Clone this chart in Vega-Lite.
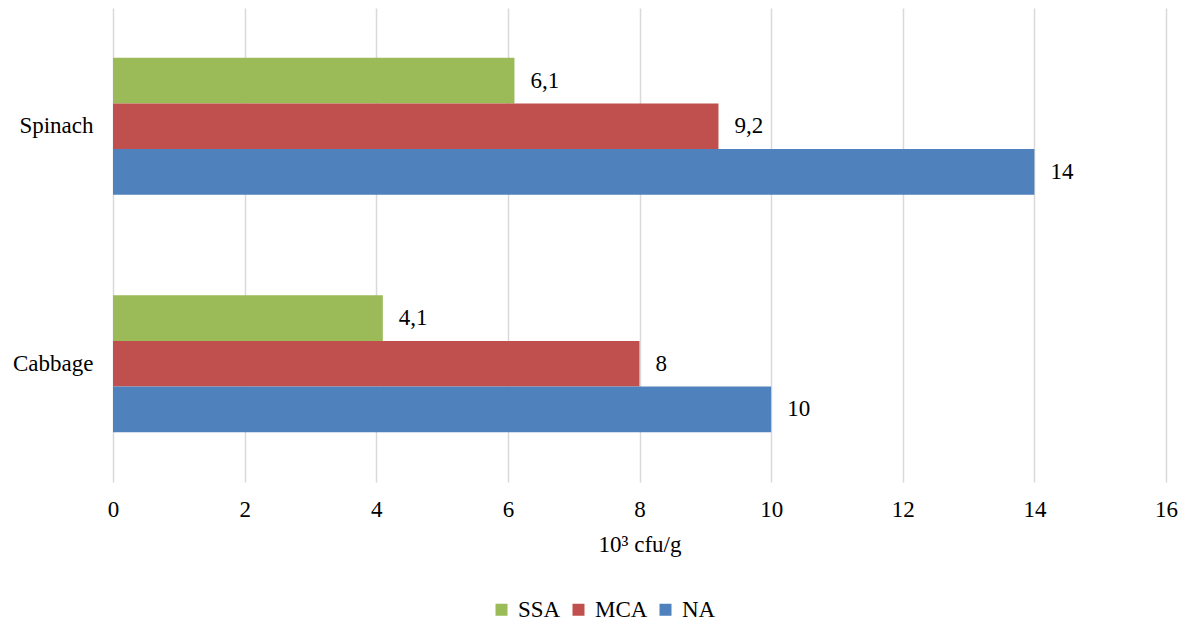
{
  "$schema": "https://vega.github.io/schema/vega-lite/v6.json",
  "width": 1053,
  "height": 474,
  "autosize": "none",
  "padding": {"left": 113, "top": 8, "right": 23, "bottom": 146},
  "background": "white",
  "config": {
    "font": "Liberation Serif",
    "view": {"stroke": null},
    "legend": {"labelFont": "Liberation Serif", "labelFontSize": 23},
    "locale": {"number": {"decimal": ",", "thousands": " ", "grouping": [3], "currency": ["", ""]}}
  },
  "data": {
    "values": [
      {"vegetable": "Spinach", "medium": "SSA", "count": 6.1},
      {"vegetable": "Spinach", "medium": "MCA", "count": 9.2},
      {"vegetable": "Spinach", "medium": "NA", "count": 14},
      {"vegetable": "Cabbage", "medium": "SSA", "count": 4.1},
      {"vegetable": "Cabbage", "medium": "MCA", "count": 8},
      {"vegetable": "Cabbage", "medium": "NA", "count": 10}
    ]
  },
  "encoding": {
    "y": {
      "field": "vegetable",
      "type": "nominal",
      "sort": ["Spinach", "Cabbage"],
      "scale": {"paddingInner": 0.424, "paddingOuter": 0.21},
      "axis": {
        "title": null,
        "domain": false,
        "ticks": false,
        "labelPadding": 20,
        "labelFontSize": 23,
        "labelColor": "#000000",
        "labelFont": "Liberation Serif"
      }
    },
    "yOffset": {
      "field": "medium",
      "type": "nominal",
      "sort": ["SSA", "MCA", "NA"],
      "scale": {"paddingInner": 0, "paddingOuter": 0}
    },
    "x": {
      "field": "count",
      "type": "quantitative",
      "scale": {"domain": [0, 16], "nice": false},
      "axis": {
        "title": "10³ cfu/g",
        "values": [0, 2, 4, 6, 8, 10, 12, 14, 16],
        "domain": false,
        "ticks": false,
        "grid": true,
        "gridColor": "#d9d9d9",
        "gridWidth": 1.5,
        "labelFlush": false,
        "labelPadding": 16,
        "labelFontSize": 23,
        "labelColor": "#000000",
        "labelFont": "Liberation Serif",
        "titleFontSize": 23,
        "titleFontWeight": "normal",
        "titleColor": "#000000",
        "titleFont": "Liberation Serif",
        "titlePadding": 12
      }
    }
  },
  "layer": [
    {
      "mark": {"type": "bar"},
      "encoding": {
        "color": {
          "field": "medium",
          "type": "nominal",
          "sort": ["SSA", "MCA", "NA"],
          "scale": {"domain": ["SSA", "MCA", "NA"], "range": ["#9bbb59", "#c0504d", "#4f81bd"]},
          "legend": {
            "title": null,
            "orient": "none",
            "direction": "horizontal",
            "legendX": 377,
            "legendY": 590,
            "symbolType": "square",
            "symbolSize": 144,
            "symbolStrokeWidth": 0,
            "labelFontSize": 23,
            "labelColor": "#000000",
            "labelFont": "Liberation Serif",
            "labelOffset": 5,
            "columnPadding": 6
          }
        }
      }
    },
    {
      "mark": {"type": "text", "align": "left", "baseline": "middle", "dx": 16, "fontSize": 23, "color": "#000000", "font": "Liberation Serif"},
      "encoding": {
        "text": {"field": "count", "type": "quantitative", "format": "~g"}
      }
    }
  ]
}
